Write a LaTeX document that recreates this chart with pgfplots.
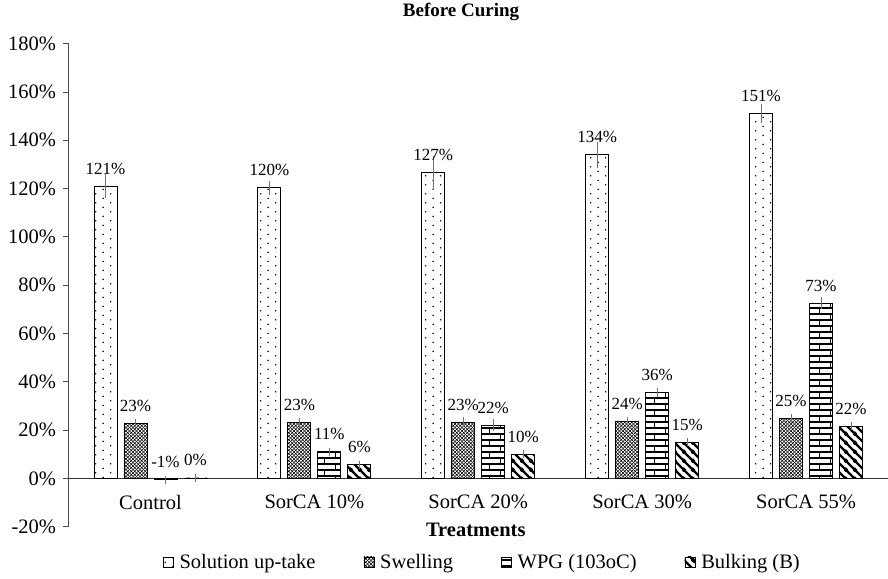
\documentclass[border=0pt]{standalone}
\usepackage{fontspec}
\setmainfont{Liberation Serif}
\usepackage{pgfplots}
\usepackage{pgfplotstable}
\pgfplotsset{compat=1.18}
\usetikzlibrary{patterns.meta}

\tikzdeclarepattern{
  name=sparsedots, type=uncolored,
  bounding box={(0pt,0pt) and (15.4pt,9.4pt)},
  tile size={(15.4pt,9.4pt)},
  code={\fill (3.85pt,2.35pt) circle (0.85pt); \fill (11.55pt,7.05pt) circle (0.85pt);}
}
\tikzdeclarepattern{
  name=diaghatch, type=uncolored,
  bounding box={(-0.5pt,-0.5pt) and (4pt,4pt)},
  tile size={(3.5pt,3.5pt)},
  code={\draw[line width=0.45pt] (0pt,0pt)--(3.5pt,3.5pt) (0pt,3.5pt)--(3.5pt,0pt);}
}
\tikzdeclarepattern{
  name=brickwall, type=uncolored,
  bounding box={(-0.6pt,-0.6pt) and (22.6pt,12.6pt)},
  tile size={(22pt,12pt)},
  code={\draw[line width=1.1pt] (-0.6pt,0pt)--(22.6pt,0pt) (-0.6pt,6pt)--(22.6pt,6pt)
        (5.5pt,0pt)--(5.5pt,6pt) (16.5pt,6pt)--(16.5pt,12pt);}
}
\tikzdeclarepattern{
  name=widestripes, type=uncolored,
  bounding box={(-2pt,-2pt) and (11pt,11pt)},
  tile size={(9pt,9pt)},
  code={\draw[line width=2.4pt] (-1pt,10pt)--(10pt,-1pt) (-2pt,1pt)--(1pt,-2pt) (8pt,11pt)--(11pt,8pt);}
}

\pgfplotstableread{
x y err lab
0 121.0 3.5 121
1 120.3 1.5 120
2 126.5 5.5 127
3 134.0 4.0 134
4 151.0 2.5 151
}\solution
\pgfplotstableread{
x y err lab
0 22.7 0.5 23
1 23.0 0.5 23
2 23.3 0.5 23
3 23.6 0.5 24
4 24.8 0.5 25
}\swelling
\pgfplotstableread{
x y err lab
0 -0.6 0.3 -1
1 11.0 0.3 11
2 22.0 1.0 22
3 35.6 0.3 36
4 72.6 1.0 73
}\wpg
\pgfplotstableread{
x y err lab
0 0.2 0.3 0
1 5.6 0.3 6
2 10.0 0.3 10
3 15.0 0.3 15
4 21.6 0.3 22
}\bulking

\begin{document}
\begin{tikzpicture}
\path[use as bounding box] (-68.5pt,-51.3pt) rectangle (819.5pt,526.7pt);
\begin{axis}[
  at={(0pt,0pt)}, anchor=south west,
  scale only axis, width=819.5pt, height=483pt,
  xmin=-0.5, xmax=4.5, ymin=-20, ymax=180,
  axis x line=middle, axis y line=left,
  x axis line style={-, line width=0.9pt, black!80},
  y axis line style={-, line width=0.9pt, black!70},
  hide obscured y ticks=false, hide obscured x ticks=false,
  xtick={0,1,2,3,4},
  xticklabels={Control, SorCA 10\%, SorCA 20\%, SorCA 30\%, SorCA 55\%},
  xtick style={draw=none},
  xticklabel style={font=\fontsize{20.5}{24}\selectfont, yshift=-8pt},
  ytick={-20,0,...,180},
  yticklabel={\pgfmathprintnumber{\tick}\%},
  yticklabel style={font=\fontsize{20.5}{24}\selectfont, xshift=-4pt},
  tick align=outside, major tick length=5pt,
  ytick style={black!70, line width=0.8pt},
  /pgf/number format/assume math mode=true,
  ybar, bar width=0.14,
  xlabel={\textbf{Treatments}},
  xlabel style={at={(axis description cs:0.497,-0.007)}, anchor=center, font=\fontsize{20.5}{24}\selectfont},
  title={\textbf{Before Curing}},
  every axis title shift=0pt,
  title style={at={(axis description cs:0.479,1.066)}, anchor=center, yshift=0pt, font=\fontsize{19}{22}\selectfont},
  legend style={at={(axis description cs:0.505,-0.073)}, anchor=center, draw=none,
    font=\fontsize{20.5}{24}\selectfont, legend columns=4,
    /tikz/every odd column/.append style={column sep=4pt},
    /tikz/every even column/.append style={column sep=46pt}},
  legend cell align=left,
  legend image code/.code={\draw[#1, draw=black, line width=0.6pt] (0pt,-5pt) rectangle (10pt,5pt);},
  nodes near coords={\pgfmathprintnumber{\pgfplotspointmeta}\%},
  point meta=explicit,
  nodes near coords align={anchor=base},
  every node near coord/.append style={font=\fontsize{17}{20}\selectfont, yshift=12pt, inner sep=0pt, black},
  error bars/y dir=both, error bars/y explicit,
  error bars/error bar style={black!55, line width=0.8pt},
  error bars/error mark options={black!55, mark size=3.5pt, line width=0.8pt},
]
\addplot[bar shift=-0.2745, draw=black, line width=0.8pt, pattern={sparsedots}, pattern color=black]
  table[x=x, y=y, y error=err, meta=lab] {\solution};
\addlegendentry{Solution up-take}
\addplot[bar shift=-0.0915, draw=black, line width=0.8pt, pattern={diaghatch}, pattern color=black]
  table[x=x, y=y, y error=err, meta=lab] {\swelling};
\addlegendentry{Swelling}
\addplot[bar shift=0.0915, draw=black, line width=0.8pt, pattern={brickwall}, pattern color=black]
  table[x=x, y=y, y error=err, meta=lab] {\wpg};
\addlegendentry{WPG (103oC)}
\addplot[bar shift=0.2745, draw=black, line width=0.8pt, pattern={widestripes}, pattern color=black]
  table[x=x, y=y, y error=err, meta=lab] {\bulking};
\addlegendentry{Bulking (B)}
\end{axis}
\end{tikzpicture}
\end{document}
